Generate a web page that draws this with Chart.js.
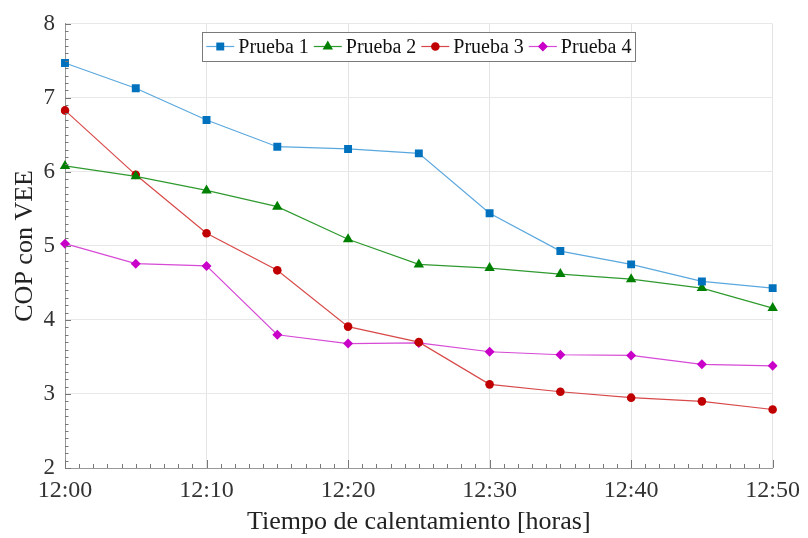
<!DOCTYPE html>
<html>
<head>
<meta charset="utf-8">
<script src="https://cdn.jsdelivr.net/npm/chart.js@4"></script>
<style>
  html, body { margin: 0; padding: 0; background: #fff; }
  #wrap { width: 808px; height: 538px; }
</style>
</head>
<body>
<div id="wrap"><canvas id="cop-chart" width="808" height="538"></canvas></div>
<script>
// data
const times = ['12:00', '12:05', '12:10', '12:15', '12:20', '12:25', '12:30', '12:35', '12:40', '12:45', '12:50'];
const prueba1 = [7.47, 7.13, 6.70, 6.34, 6.31, 6.25, 5.44, 4.93, 4.75, 4.52, 4.43];
const prueba2 = [6.08, 5.94, 5.75, 5.53, 5.09, 4.75, 4.70, 4.62, 4.55, 4.43, 4.16];
const prueba3 = [6.83, 5.96, 5.17, 4.67, 3.91, 3.70, 3.13, 3.03, 2.95, 2.90, 2.79];
const prueba4 = [5.03, 4.76, 4.73, 3.80, 3.68, 3.69, 3.57, 3.53, 3.52, 3.40, 3.38];
const seriesNames = ['Prueba 1', 'Prueba 2', 'Prueba 3', 'Prueba 4'];
const yMin = 2, yMax = 8;

const FONT = "'Liberation Serif', 'Times New Roman', serif";

const styles = [
    { line: '#5aa8de', mark: '#0072bd', point: 'rect', r: 5.6 },
    { line: '#2f9a2f', mark: '#008000', point: 'triangle', r: 6 },
    { line: '#d84a4a', mark: '#c00000', point: 'circle', r: 4.3 },
    { line: '#d64ad6', mark: '#c800c8', point: 'rectRot', r: 5 }
];
const values = [prueba1, prueba2, prueba3, prueba4];

function drawMarker(ctx, style, x, y, r) {
    ctx.save();
    ctx.fillStyle = style.mark;
    ctx.beginPath();
    if (style.point === 'rect') {
        const s = Math.SQRT1_2 * r;
        ctx.rect(x - s, y - s, 2 * s, 2 * s);
    } else if (style.point === 'triangle') {
        ctx.moveTo(x, y - r);
        ctx.lineTo(x + r * 0.866, y + r * 0.5);
        ctx.lineTo(x - r * 0.866, y + r * 0.5);
        ctx.closePath();
    } else if (style.point === 'circle') {
        ctx.arc(x, y, r, 0, Math.PI * 2);
    } else {
        ctx.moveTo(x, y - r);
        ctx.lineTo(x + r, y);
        ctx.lineTo(x, y + r);
        ctx.lineTo(x - r, y);
        ctx.closePath();
    }
    ctx.fill();
    ctx.restore();
}

// small inward tick marks on both axes
const minorTicks = {
    id: 'minorTicks',
    afterDraw(chart) {
        const { ctx, chartArea, scales } = chart;
        ctx.save();
        ctx.strokeStyle = '#777';
        ctx.lineWidth = 1;
        ctx.beginPath();
        for (let i = 0; i <= (yMax - yMin) * 10; i++) {
            const y = Math.round(scales.y.getPixelForValue(yMin + i / 10)) + 0.5;
            const len = i % 10 === 0 ? 6 : 3.5;
            ctx.moveTo(chartArea.left, y);
            ctx.lineTo(chartArea.left + len, y);
        }
        const x0 = scales.x.getPixelForValue(0);
        const x1 = scales.x.getPixelForValue(times.length - 1);
        for (let i = 0; i <= 50; i++) {
            const x = Math.round(x0 + (x1 - x0) * i / 50) + 0.5;
            const len = i % 10 === 0 ? 8 : 4;
            ctx.moveTo(x, chartArea.bottom);
            ctx.lineTo(x, chartArea.bottom - len);
        }
        ctx.stroke();
        ctx.restore();
    }
};

// boxed legend inside the plot, centred at the top
const boxLegend = {
    id: 'boxLegend',
    afterDraw(chart) {
        const { ctx, chartArea } = chart;
        ctx.save();
        ctx.font = '20px ' + FONT;
        const lineLen = 28, gap = 4, itemGap = 5, pad = 4;
        const widths = seriesNames.map(n => lineLen + gap + ctx.measureText(n).width);
        const total = widths.reduce((a, b) => a + b, 0) + itemGap * (seriesNames.length - 1) + pad * 2;
        const left = (chartArea.left + chartArea.right) / 2 - total / 2;
        const top = 32, h = 29;
        ctx.fillStyle = '#fff';
        ctx.fillRect(left, top, total, h);
        ctx.strokeStyle = '#7a7a7a';
        ctx.lineWidth = 1;
        ctx.strokeRect(Math.round(left) + 0.5, top + 0.5, Math.round(total), h);
        let x = left + pad;
        const cy = top + h / 2;
        seriesNames.forEach((name, i) => {
            const st = styles[i];
            ctx.strokeStyle = st.line;
            ctx.lineWidth = 1.2;
            ctx.beginPath();
            ctx.moveTo(x, cy);
            ctx.lineTo(x + lineLen, cy);
            ctx.stroke();
            drawMarker(ctx, st, x + lineLen / 2, cy, st.r);
            ctx.fillStyle = '#111';
            ctx.textBaseline = 'middle';
            ctx.fillText(name, x + lineLen + gap, cy + 1);
            x += widths[i] + itemGap;
        });
        ctx.restore();
    }
};

const datasets = seriesNames.map((name, i) => ({
    label: name,
    data: values[i],
    borderColor: styles[i].line,
    borderWidth: 1.2,
    pointStyle: styles[i].point,
    pointRadius: styles[i].r,
    pointBackgroundColor: styles[i].mark,
    pointBorderColor: styles[i].mark,
    pointBorderWidth: 0,
    tension: 0,
    fill: false
}));

const ctx = document.getElementById('cop-chart').getContext('2d');

const chart = new Chart(ctx, {
    type: 'line',
    data: { labels: times, datasets: datasets },
    options: {
        responsive: false,
        animation: false,
        layout: { padding: { top: 19.5, right: 33, left: 0, bottom: 0 } },
        plugins: {
            legend: { display: false },
            tooltip: { enabled: false }
        },
        scales: {
            x: {
                type: 'category',
                offset: false,
                afterFit: s => { s.height = 70; },
                grid: {
                    drawTicks: false,
                    color: c => (c.index % 2 === 0 ? '#e4e4e4' : 'rgba(0,0,0,0)')
                },
                border: { color: '#999', width: 1 },
                ticks: {
                    autoSkip: false,
                    maxRotation: 0,
                    padding: 8,
                    color: '#333',
                    font: { family: FONT, size: 24 },
                    callback: (v, i) => (i % 2 === 0 ? times[i] : '')
                },
                title: {
                    display: true,
                    text: 'Tiempo de calentamiento [horas]',
                    color: '#222',
                    font: { family: FONT, size: 26 },
                    padding: { top: 0, bottom: 0 }
                }
            },
            y: {
                min: yMin,
                max: yMax,
                afterFit: s => { s.width = 65; },
                grid: { drawTicks: false, color: '#e8e8e8' },
                border: { color: '#999', width: 1 },
                ticks: {
                    stepSize: 1,
                    padding: 10,
                    color: '#333',
                    font: { family: FONT, size: 23 }
                },
                title: {
                    display: true,
                    text: 'COP con VEE',
                    color: '#222',
                    font: { family: FONT, size: 26 },
                    padding: { top: 10, bottom: 0 }
                }
            }
        }
    },
    plugins: [minorTicks, boxLegend]
});
</script>
</body>
</html>
